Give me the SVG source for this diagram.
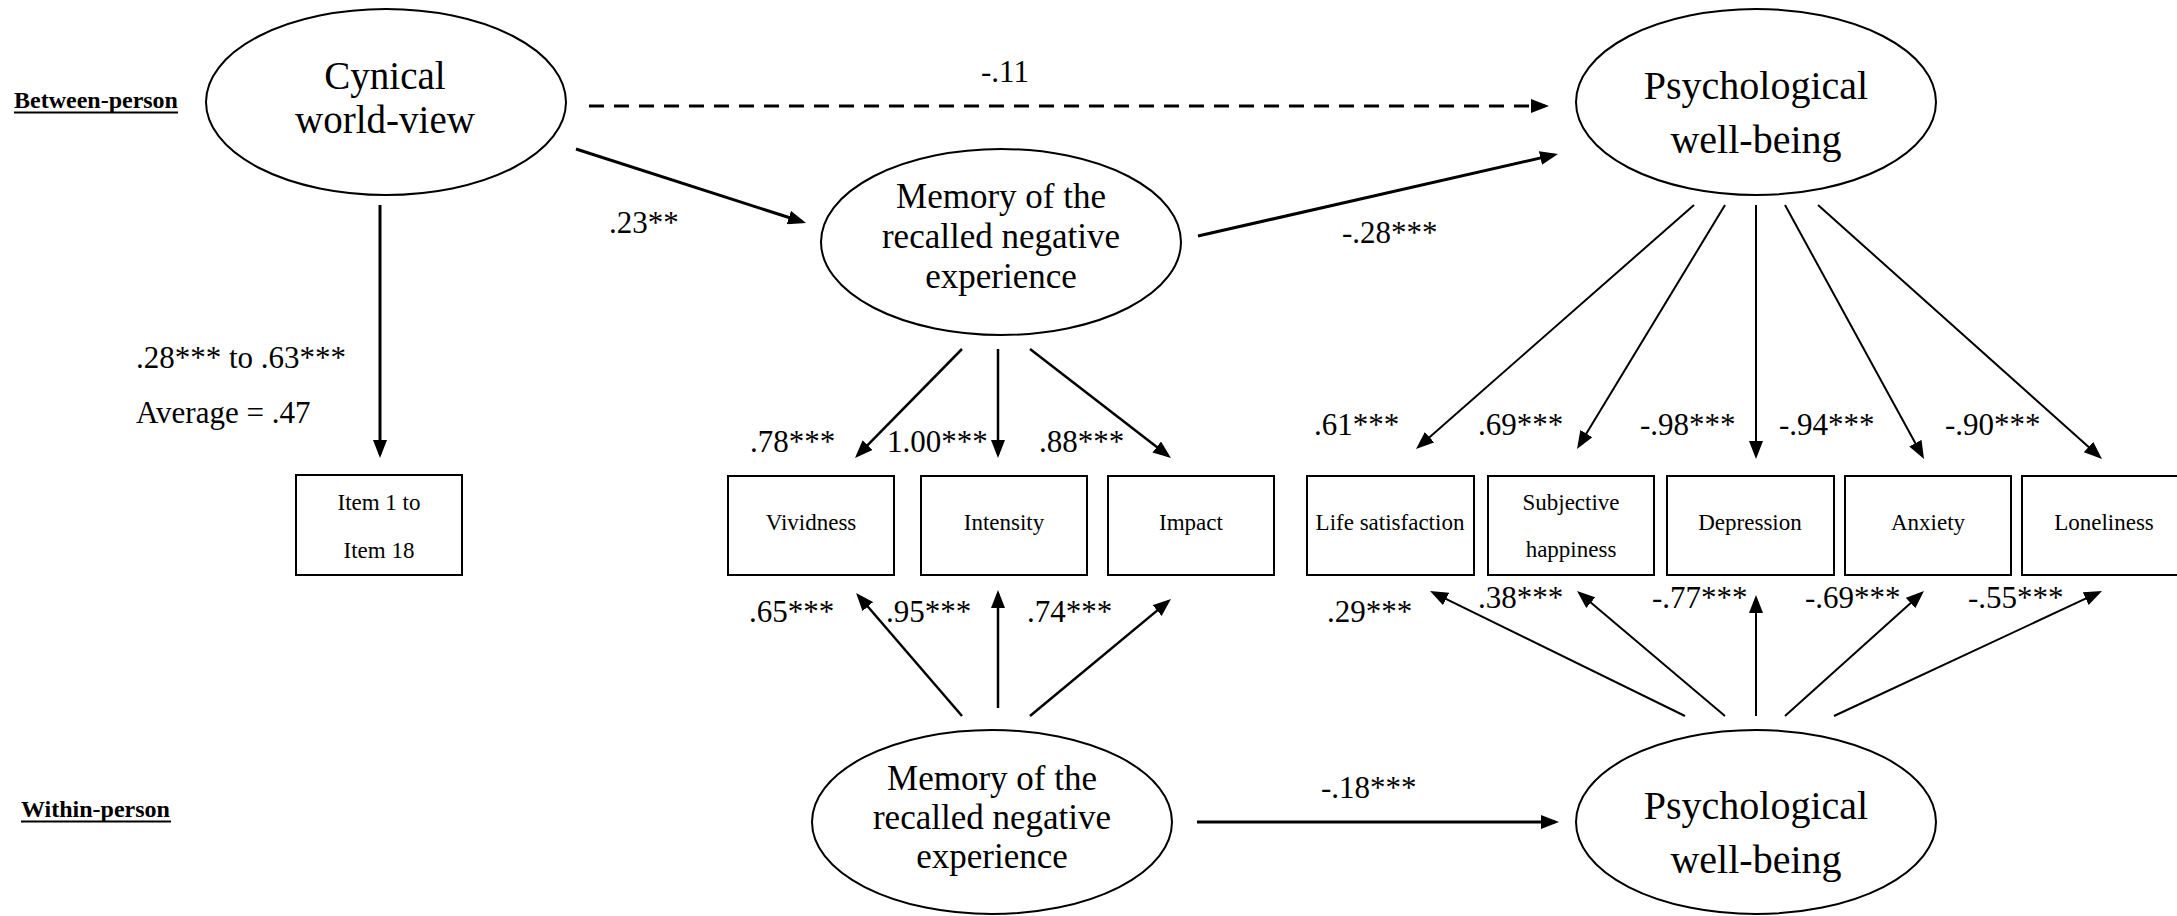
<svg xmlns="http://www.w3.org/2000/svg" width="2177" height="916" viewBox="0 0 2177 916" font-family="'Liberation Serif', 'DejaVu Serif', 'Times New Roman', Times, serif">
  <style>
    text { font-family: 'Liberation Serif', 'DejaVu Serif', 'Times New Roman', Times, serif; fill: #000; }
    .hdr { font-size: 24px; font-weight: bold; }
    .big { font-size: 40px; text-anchor: middle; }
    .mem { font-size: 35px; text-anchor: middle; }
    .box { font-size: 23px; text-anchor: middle; }
    .lbl { font-size: 31px; }
    .lat { fill: #fff; stroke: #000; stroke-width: 2; }
    .obs { fill: #fff; stroke: #000; stroke-width: 2; }
    .main { stroke: #000; stroke-width: 3; fill: none; marker-end: url(#head); }
    .ind { stroke: #000; stroke-width: 2.5; fill: none; marker-end: url(#head); }
    .thin { stroke: #000; stroke-width: 2; fill: none; marker-end: url(#head); }
    .dash { stroke-dasharray: 15 10; }
    .ul { stroke: #000; stroke-width: 2; }
  </style>
  <defs>
    <marker id="head" markerUnits="userSpaceOnUse" markerWidth="18" markerHeight="14" refX="14" refY="7" orient="auto">
      <path d="M0,0 L18,7 L0,14 z" fill="#000"/>
    </marker>
  </defs>
  <rect width="2177" height="916" fill="#fff"/>

  <!-- level headings -->
  <g id="heading-between">
    <text class="hdr" x="14" y="108">Between-person</text>
    <line class="ul" x1="14" y1="112.5" x2="178" y2="112.5"/>
  </g>
  <g id="heading-within">
    <text class="hdr" x="21" y="817">Within-person</text>
    <line class="ul" x1="21" y1="821.5" x2="171" y2="821.5"/>
  </g>

  <!-- connectors -->
  <g id="connectors">
    <line class="main dash" x1="589" y1="106" x2="1545" y2="106"/>
    <line class="main" x1="576" y1="149" x2="802.2" y2="221.8"/>
    <line class="main" x1="1198" y1="236" x2="1554.1" y2="154.9"/>
    <line class="main" x1="380" y1="205" x2="380" y2="454"/>
    <line class="main" x1="1197" y1="822" x2="1555" y2="822"/>

    <line class="ind" x1="962" y1="349" x2="857.8" y2="455.1"/>
    <line class="ind" x1="998" y1="349" x2="998" y2="454"/>
    <line class="ind" x1="1030" y1="349" x2="1167.8" y2="455.6"/>
    <line class="ind" x1="962" y1="716" x2="858.7" y2="596"/>
    <line class="ind" x1="998" y1="708" x2="998" y2="594"/>
    <line class="ind" x1="1030" y1="716" x2="1167.9" y2="601.6"/>

    <line class="thin" x1="1694" y1="205" x2="1419" y2="446.4"/>
    <line class="thin" x1="1725" y1="205" x2="1579.1" y2="445.6"/>
    <line class="thin" x1="1756" y1="205" x2="1756" y2="455"/>
    <line class="thin" x1="1785" y1="205" x2="1922.1" y2="455.5"/>
    <line class="thin" x1="1818" y1="205" x2="2099" y2="456.3"/>

    <line class="thin" x1="1685" y1="716" x2="1433.6" y2="592.8"/>
    <line class="thin" x1="1725" y1="716" x2="1580.1" y2="593.6"/>
    <line class="thin" x1="1756" y1="716" x2="1756" y2="599"/>
    <line class="thin" x1="1785" y1="716" x2="1921" y2="593.7"/>
    <line class="thin" x1="1834" y1="716" x2="2098.4" y2="592.7"/>
  </g>

  <!-- path coefficients -->
  <g id="labels">
    <text class="lbl" x="981" y="82">-.11</text>
    <text class="lbl" x="609" y="233">.23**</text>
    <text class="lbl" x="1342" y="243">-.28***</text>
    <text class="lbl" x="136" y="368">.28*** to .63***</text>
    <text class="lbl" x="136" y="423">Average = .47</text>
    <text class="lbl" x="750" y="452">.78***</text>
    <text class="lbl" x="887" y="452">1.00***</text>
    <text class="lbl" x="1039" y="452">.88***</text>
    <text class="lbl" x="1314" y="435">.61***</text>
    <text class="lbl" x="1478" y="435">.69***</text>
    <text class="lbl" x="1640" y="435">-.98***</text>
    <text class="lbl" x="1779" y="435">-.94***</text>
    <text class="lbl" x="1945" y="435">-.90***</text>
    <text class="lbl" x="749" y="622">.65***</text>
    <text class="lbl" x="886" y="622">.95***</text>
    <text class="lbl" x="1027" y="622">.74***</text>
    <text class="lbl" x="1327" y="622">.29***</text>
    <text class="lbl" x="1478" y="608">.38***</text>
    <text class="lbl" x="1652" y="608">-.77***</text>
    <text class="lbl" x="1805" y="608">-.69***</text>
    <text class="lbl" x="1968" y="608">-.55***</text>
    <text class="lbl" x="1321" y="798">-.18***</text>
  </g>

  <!-- latent variables -->
  <g id="cynical">
    <ellipse class="lat" cx="386" cy="102" rx="180" ry="93"/>
    <text class="big" x="385" y="89" style="font-size:39px">Cynical</text>
    <text class="big" x="385" y="133" style="font-size:39px">world-view</text>
  </g>
  <g id="memory-between">
    <ellipse class="lat" cx="1001" cy="242" rx="180" ry="93"/>
    <text class="mem" x="1001" y="208">Memory of the</text>
    <text class="mem" x="1001" y="248">recalled negative</text>
    <text class="mem" x="1001" y="288">experience</text>
  </g>
  <g id="wellbeing-between">
    <ellipse class="lat" cx="1756" cy="102" rx="180" ry="93"/>
    <text class="big" x="1756" y="99">Psychological</text>
    <text class="big" x="1756" y="153">well-being</text>
  </g>
  <g id="memory-within">
    <ellipse class="lat" cx="992" cy="822" rx="180" ry="92"/>
    <text class="mem" x="992" y="790">Memory of the</text>
    <text class="mem" x="992" y="829">recalled negative</text>
    <text class="mem" x="992" y="868">experience</text>
  </g>
  <g id="wellbeing-within">
    <ellipse class="lat" cx="1756" cy="822" rx="180" ry="92"/>
    <text class="big" x="1756" y="819">Psychological</text>
    <text class="big" x="1756" y="873">well-being</text>
  </g>

  <!-- observed indicators -->
  <g id="items">
    <rect class="obs" x="296" y="475" width="166" height="100"/>
    <text class="box" x="379" y="510">Item 1 to</text>
    <text class="box" x="379" y="558">Item 18</text>
  </g>
  <g id="vividness">
    <rect class="obs" x="728" y="476" width="166" height="99"/>
    <text class="box" x="811" y="530">Vividness</text>
  </g>
  <g id="intensity">
    <rect class="obs" x="921" y="476" width="166" height="99"/>
    <text class="box" x="1004" y="530">Intensity</text>
  </g>
  <g id="impact">
    <rect class="obs" x="1108" y="476" width="166" height="99"/>
    <text class="box" x="1191" y="530">Impact</text>
  </g>
  <g id="life-satisfaction">
    <rect class="obs" x="1307" y="476" width="167" height="99"/>
    <text class="box" x="1390" y="530">Life satisfaction</text>
  </g>
  <g id="subjective-happiness">
    <rect class="obs" x="1488" y="476" width="166" height="99"/>
    <text class="box" x="1571" y="510">Subjective</text>
    <text class="box" x="1571" y="557">happiness</text>
  </g>
  <g id="depression">
    <rect class="obs" x="1667" y="476" width="167" height="99"/>
    <text class="box" x="1750" y="530">Depression</text>
  </g>
  <g id="anxiety">
    <rect class="obs" x="1845" y="476" width="166" height="99"/>
    <text class="box" x="1928" y="530">Anxiety</text>
  </g>
  <g id="loneliness">
    <rect class="obs" x="2022" y="476" width="170" height="99"/>
    <text class="box" x="2104" y="530">Loneliness</text>
  </g>
</svg>
